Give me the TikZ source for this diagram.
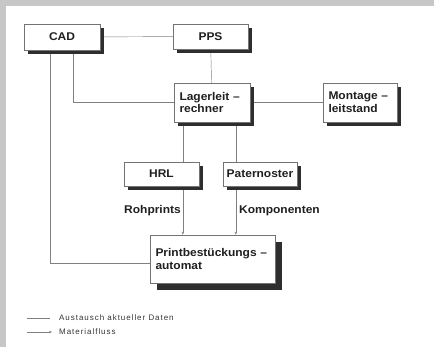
\documentclass[tikz,border=0pt]{standalone}
\usepackage{fontspec}
\setmainfont{Liberation Sans}
\newfontfamily\legendfont[LetterSpace=12]{Liberation Sans}
\newfontfamily\boxfont[FakeStretch=1.07]{Liberation Sans}
\usetikzlibrary{shadows,backgrounds,arrows.meta}
\begin{document}
\begin{tikzpicture}[x=1pt,y=-1pt,
  boxc/.style={draw=black!55, line width=0.5pt, fill=white, inner sep=0pt,
    general shadow={fill=black!82, shadow xshift=4pt, shadow yshift=-4pt},
    font=\fontsize{11.2}{12.6}\boxfont\bfseries, text=black!88},
  boxl/.style={boxc, align=left, inner xsep=5.5pt},
  bigbox/.style={draw=black!55, line width=0.5pt, fill=white, inner sep=0pt,
    general shadow={fill=black!82, shadow xshift=7pt, shadow yshift=-7.5pt},
    font=\fontsize{11.2}{12.6}\boxfont\bfseries, text=black!88, align=left, inner xsep=5.5pt},
  data/.style={draw=black!50, line width=0.45pt},
  flow/.style={data, -{Stealth[length=3pt,width=2.5pt]}},
  lbl/.style={font=\fontsize{11.2}{12.6}\boxfont\bfseries, text=black!88, inner sep=0pt},
  leg/.style={font=\fontsize{8}{9}\legendfont, text=black!80, inner sep=0pt, anchor=west}]
\useasboundingbox (0,0) rectangle (434,347);
\fill[black!22] (0,0) rectangle (434,6);
\fill[black!22] (0,0) rectangle (6,347);
\node[boxc, minimum width=76pt, minimum height=26pt] (cad) at (62,37) {CAD};
\node[boxc, minimum width=75pt, minimum height=25pt] (pps) at (210.5,36.5) {PPS};
\node[boxl, text width=65pt, minimum height=39pt] (lager) at (212,102.5) {Lagerleit –\\rechner};
\node[boxl, text width=63pt, minimum height=39pt] (mont) at (360,102.5) {Montage –\\leitstand};
\node[boxc, minimum width=75pt, minimum height=24pt] (hrl) at (161.5,174) {HRL};
\node[boxc, minimum width=74pt, minimum height=24pt] (pat) at (260,174) {Paternoster};
\node[bigbox, text width=114pt, minimum height=48pt] (print) at (212.5,259) {Printbestückungs –\\automat};
\node[lbl] (roh) at (152.5,211) {Rohprints};
\node[lbl] (komp) at (279.5,211) {Komponenten};
\coordinate (la) at (27,318);
\coordinate (lb) at (50,318);
\coordinate (lc) at (27,332);
\coordinate (ld) at (52,332);
\node[leg] (t1) at (59,318) {Austausch aktueller Daten};
\node[leg] (t2) at (59,332) {Materialfluss};
\begin{scope}[on background layer]
\draw[data] (cad) -- (pps);
\draw[data] (pps) -- (lager);
\draw[data] ([xshift=49pt]cad.south west) |- (lager.west);
\draw[data] (lager) -- (mont);
\draw[data] ([xshift=26pt]cad.south west) |- ([yshift=-4pt]print.west);
\draw[flow] ([xshift=9pt]lager.south west) -- ([xshift=9pt]lager.south west |- print.north);
\draw[flow] ([xshift=62pt]lager.south west) -- ([xshift=62pt]lager.south west |- print.north);
\draw[data] (la) -- (lb);
\draw[flow] (lc) -- (ld);
\end{scope}
\end{tikzpicture}
\end{document}
